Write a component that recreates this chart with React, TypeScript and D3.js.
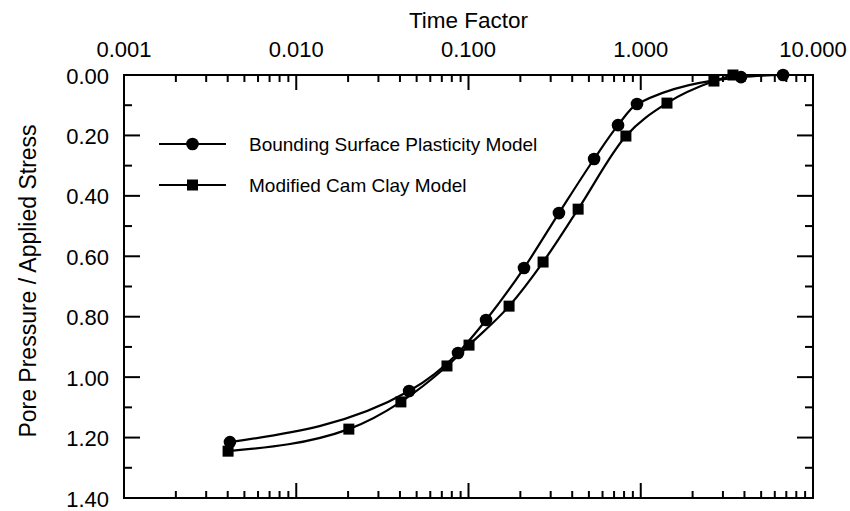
import React from "react";
import * as d3 from "d3";

const bspTime = [0.00412, 0.0452, 0.0869, 0.1264, 0.21, 0.335, 0.536, 0.738, 0.951, 3.82, 6.7];
const bspValue = [1.215, 1.046, 0.92, 0.811, 0.639, 0.457, 0.278, 0.166, 0.096, 0.007, 0.0];
const mccTime = [0.00402, 0.0202, 0.0405, 0.075, 0.1007, 0.172, 0.271, 0.433, 0.82, 1.42, 2.66, 3.43];
const mccValue = [1.245, 1.172, 1.082, 0.963, 0.894, 0.765, 0.619, 0.444, 0.202, 0.093, 0.02, 0.0];
const xTickValues = [0.001, 0.01, 0.1, 1, 10];
const yTickValues = [0, 0.2, 0.4, 0.6, 0.8, 1.0, 1.2, 1.4];
const seriesNames = ["Bounding Surface Plasticity Model", "Modified Cam Clay Model"];
const xTitle = "Time Factor";
const yTitle = "Pore Pressure / Applied Stress";

const W = 850;
const H = 511;
const M = { left: 124, right: 813, top: 75, bottom: 498 };
const FONT = "'Liberation Sans', Arial, Helvetica, sans-serif";

export default function App() {
  const x = d3.scaleLog().domain([0.001, 10]).range([M.left, M.right]);
  const y = d3.scaleLinear().domain([0, 1.4]).range([M.top, M.bottom]);

  const minorX: number[] = [];
  for (let e = -3; e < 1; e++) {
    for (let k = 2; k <= 9; k++) minorX.push(k * Math.pow(10, e));
  }
  const minorY: number[] = [];
  for (let v = 0.1; v < 1.4; v += 0.2) minorY.push(+v.toFixed(2));

  const line = d3
    .line<[number, number]>()
    .x((d) => x(d[0]))
    .y((d) => y(d[1]))
    .curve(d3.curveMonotoneX);

  const bsp: [number, number][] = bspTime.map((t, i) => [t, bspValue[i]]);
  const mcc: [number, number][] = mccTime.map((t, i) => [t, mccValue[i]]);

  const fmtX = d3.format(".3f");
  const fmtY = d3.format(".2f");
  const sw = 2;

  const legendY = [144, 185];
  const legendX0 = 159;
  const legendX1 = 226;

  return (
    <svg
      width={W}
      height={H}
      style={{ position: "absolute", left: 0, top: 0, background: "#fff" }}
      fontFamily={FONT}
    >
      <rect x={0} y={0} width={W} height={H} fill="#fff" />
      {/* frame */}
      <rect
        x={M.left}
        y={M.top}
        width={M.right - M.left}
        height={M.bottom - M.top}
        fill="none"
        stroke="#000"
        strokeWidth={sw}
      />
      {/* x ticks top & bottom */}
      {xTickValues.map((t) => (
        <g key={"xt" + t}>
          <line x1={x(t)} x2={x(t)} y1={M.top} y2={M.top + 15} stroke="#000" strokeWidth={sw} />
          <line x1={x(t)} x2={x(t)} y1={M.bottom} y2={M.bottom - 15} stroke="#000" strokeWidth={sw} />
          <text x={x(t)} y={57} textAnchor="middle" fontSize={22} fill="#000">
            {fmtX(t)}
          </text>
        </g>
      ))}
      {minorX.map((t) => (
        <g key={"xm" + t}>
          <line x1={x(t)} x2={x(t)} y1={M.top} y2={M.top + 7} stroke="#000" strokeWidth={sw} />
          <line x1={x(t)} x2={x(t)} y1={M.bottom} y2={M.bottom - 7} stroke="#000" strokeWidth={sw} />
        </g>
      ))}
      {/* y ticks left & right */}
      {yTickValues.map((v) => (
        <g key={"yt" + v}>
          <line x1={M.left} x2={M.left + 16} y1={y(v)} y2={y(v)} stroke="#000" strokeWidth={sw} />
          <line x1={M.right} x2={M.right - 16} y1={y(v)} y2={y(v)} stroke="#000" strokeWidth={sw} />
          <text x={109} y={y(v) + 8.5} textAnchor="end" fontSize={22} fill="#000">
            {fmtY(v)}
          </text>
        </g>
      ))}
      {minorY.map((v) => (
        <g key={"ym" + v}>
          <line x1={M.left} x2={M.left + 8} y1={y(v)} y2={y(v)} stroke="#000" strokeWidth={sw} />
          <line x1={M.right} x2={M.right - 8} y1={y(v)} y2={y(v)} stroke="#000" strokeWidth={sw} />
        </g>
      ))}
      {/* titles */}
      <text x={(M.left + M.right) / 2} y={28} textAnchor="middle" fontSize={22.5} fill="#000">
        {xTitle}
      </text>
      <text
        transform={`translate(36, 281) rotate(-90)`}
        textAnchor="middle"
        fontSize={23}
        fill="#000"
      >
        {yTitle}
      </text>
      {/* series lines */}
      <path d={line(bsp) || ""} fill="none" stroke="#000" strokeWidth={2.2} />
      <path d={line(mcc) || ""} fill="none" stroke="#000" strokeWidth={2.2} />
      {/* markers */}
      {bsp.map((d, i) => (
        <circle key={"c" + i} cx={x(d[0])} cy={y(d[1])} r={6.3} fill="#000" />
      ))}
      {mcc.map((d, i) => (
        <rect key={"s" + i} x={x(d[0]) - 5.5} y={y(d[1]) - 5.5} width={11} height={11} fill="#000" />
      ))}
      {/* legend */}
      <g>
        <line x1={legendX0} x2={legendX1} y1={legendY[0]} y2={legendY[0]} stroke="#000" strokeWidth={2.2} />
        <circle cx={(legendX0 + legendX1) / 2} cy={legendY[0]} r={6.3} fill="#000" />
        <text x={249} y={legendY[0] + 6.5} fontSize={19} fill="#000">
          {seriesNames[0]}
        </text>
        <line x1={legendX0} x2={legendX1} y1={legendY[1]} y2={legendY[1]} stroke="#000" strokeWidth={2.2} />
        <rect x={(legendX0 + legendX1) / 2 - 5.5} y={legendY[1] - 5.5} width={11} height={11} fill="#000" />
        <text x={249} y={legendY[1] + 6.5} fontSize={19} fill="#000">
          {seriesNames[1]}
        </text>
      </g>
    </svg>
  );
}
